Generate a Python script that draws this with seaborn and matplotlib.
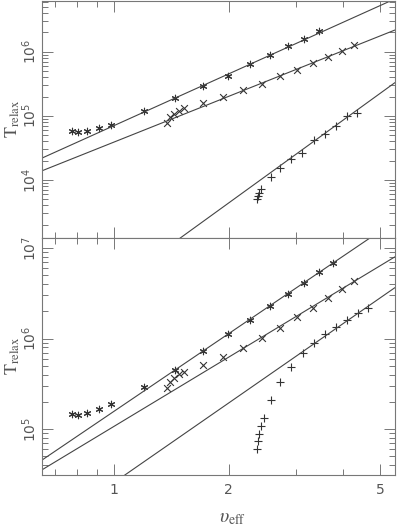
import numpy as np
import pandas as pd
import seaborn as sns
import matplotlib
matplotlib.use("Agg")
import matplotlib.pyplot as plt
from matplotlib.ticker import LogLocator, FixedLocator, NullFormatter, FixedFormatter

# ---- data ----
# x positions (v_eff), shared by both panels
star_x = [0.776, 0.804, 0.849, 0.913, 0.982, 1.20, 1.446, 1.713, 1.995, 2.275,
          2.567, 2.86, 3.155, 3.452, 3.757]
cross_x = [1.378, 1.403, 1.437, 1.481, 1.526, 1.713, 1.932, 2.181, 2.454, 2.728,
           3.022, 3.33, 3.645, 3.967, 4.265]

# top panel
top_star_y = [5.82e4, 5.61e4, 5.82e4, 6.49e4, 7.22e4, 1.19e5, 1.90e5, 2.92e5,
              4.19e5, 6.46e5, 8.9e5, 1.23e6, 1.58e6, 2.1e6]
top_cross_y = [7.75e4, 9.61e4, 1.07e5, 1.19e5, 1.33e5, 1.59e5, 1.97e5, 2.49e5,
               3.14e5, 4.11e5, 5.28e5, 6.79e5, 8.27e5, 1.04e6, 1.27e6]
top_plus_x = [2.377, 2.388, 2.403, 2.431, 2.582, 2.735, 2.915, 3.115, 3.35,
              3.58, 3.837, 4.088, 4.343]
top_plus_y = [4.99e3, 5.56e3, 6.30e3, 7.19e3, 1.11e4, 1.53e4, 2.15e4, 2.62e4,
              4.21e4, 5.26e4, 6.86e4, 1.01e5, 1.10e5]

# bottom panel
bot_star_y = [1.46e5, 1.43e5, 1.50e5, 1.65e5, 1.89e5, 2.88e5, 4.55e5, 7.30e5,
              1.11e6, 1.61e6, 2.27e6, 3.10e6, 4.14e6, 5.38e6, 6.89e6]
bot_cross_y = [2.83e5, 3.30e5, 3.70e5, 4.04e5, 4.30e5, 5.08e5, 6.22e5, 7.82e5,
               1.02e6, 1.32e6, 1.72e6, 2.20e6, 2.78e6, 3.50e6, 4.31e6]
bot_plus_x = [2.377, 2.391, 2.406, 2.431, 2.471, 2.582, 2.732, 2.915, 3.129,
              3.344, 3.58, 3.825, 4.088, 4.369, 4.642]
bot_plus_y = [6.02e4, 7.38e4, 8.92e4, 1.07e5, 1.31e5, 2.10e5, 3.27e5, 4.91e5,
              6.85e5, 8.84e5, 1.12e6, 1.34e6, 1.59e6, 1.91e6, 2.16e6]

# power-law fits  T = amp * v^slope
top_fit_amp = [7.03e4, 3.89e4, 221.0]
top_fit_slope = [2.68, 2.37, 4.3]
bot_fit_amp = [1.57e5, 1.07e5, 2.56e4]
bot_fit_slope = [2.85, 2.54, 2.92]

xlim = (0.647, 5.47)
top_ylim = (1.26e3, 6.3e6)
bot_ylim = (3.1e4, 1.31e7)

sns.set_style("ticks")
plt.rcParams["font.family"] = ["DejaVu Sans"]
plt.rcParams["mathtext.fontset"] = "stix"

INK = "#333333"
FRAME = "#777777"
TXT = "#555555"

fig = plt.figure(figsize=(3.97, 5.29), dpi=100)
ax_top = fig.add_axes([0.1058, 0.551, 0.889, 0.448])
ax_bot = fig.add_axes([0.1058, 0.102, 0.889, 0.449])

xfit = np.array(xlim)


def draw_panel(ax, sy, cy, px, py, amps, slopes, ylim):
    sx = star_x[:len(sy)]
    sns.scatterplot(x=sx, y=sy, marker=(6, 2, 0), s=22, color=INK,
                    linewidth=0.8, ax=ax)
    sns.scatterplot(x=cross_x, y=cy, marker="x", s=24, color=INK,
                    linewidth=0.8, ax=ax)
    sns.scatterplot(x=px, y=py, marker="+", s=36, color=INK,
                    linewidth=0.8, ax=ax)
    for a, b in zip(amps, slopes):
        fit = pd.DataFrame({"x": xfit, "y": a * xfit ** b})
        sns.lineplot(data=fit, x="x", y="y", color="#444444", linewidth=0.8, ax=ax)
    ax.set_xscale("log")
    ax.set_yscale("log")
    ax.set_xlim(*xlim)
    ax.set_ylim(*ylim)
    ax.xaxis.set_major_locator(FixedLocator([1, 2, 5]))
    ax.xaxis.set_minor_locator(FixedLocator([0.7, 0.8, 0.9, 3, 4]))
    ax.xaxis.set_minor_formatter(NullFormatter())
    ax.yaxis.set_major_locator(LogLocator(base=10))
    ax.yaxis.set_minor_locator(LogLocator(base=10, subs=np.arange(2, 10)))
    ax.yaxis.set_minor_formatter(NullFormatter())
    ax.tick_params(which="both", direction="in", top=True, right=True,
                   color=FRAME, labelcolor=TXT, width=0.7)
    ax.tick_params(which="major", length=8)
    ax.tick_params(which="minor", length=4)
    ax.tick_params(axis="y", which="major", labelsize=10, pad=2)
    for sp in ax.spines.values():
        sp.set_color(FRAME)
        sp.set_linewidth(0.8)
    ax.set_ylabel(r"$\mathrm{T}_{\mathrm{relax}}$", fontsize=13, color=TXT)
    ax.yaxis.set_label_coords(-0.058, 0.5)


draw_panel(ax_top, top_star_y, top_cross_y, top_plus_x, top_plus_y,
           top_fit_amp, top_fit_slope, top_ylim)
draw_panel(ax_bot, bot_star_y, bot_cross_y, bot_plus_x, bot_plus_y,
           bot_fit_amp, bot_fit_slope, bot_ylim)

ax_top.tick_params(axis="x", labelbottom=False)
ax_top.set_xlabel("")
ax_bot.xaxis.set_major_formatter(FixedFormatter(["1", "2", "5"]))
ax_bot.tick_params(axis="x", which="major", labelsize=10, pad=6)
ax_bot.set_xlabel(r"$\upsilon_{\mathrm{eff}}$", fontsize=14, color=TXT)
ax_bot.xaxis.set_label_coords(0.54, -0.14)

for lab in ax_top.get_yticklabels() + ax_bot.get_yticklabels():
    lab.set_rotation(90)
    lab.set_va("center")

fig.savefig("out.png", dpi=100)
